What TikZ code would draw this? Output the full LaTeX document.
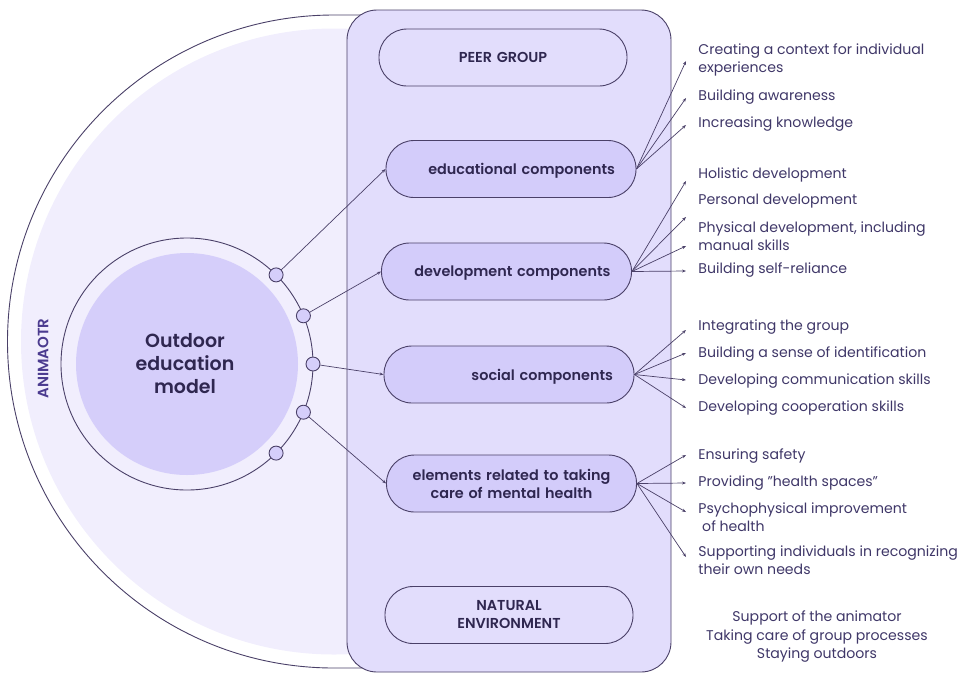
\documentclass[tikz,border=0pt]{standalone}
\usepackage{fontspec}
\setmainfont{Poppins}[BoldFont={Poppins SemiBold}]
\usetikzlibrary{arrows.meta}
\definecolor{bgA}{HTML}{F1EEFD}
\definecolor{bgB}{HTML}{E2DDFC}
\definecolor{pillC}{HTML}{D3CCFA}
\definecolor{discC}{HTML}{D5CEFA}
\definecolor{lineC}{HTML}{4A4068}
\definecolor{txtC}{HTML}{2F2750}
\definecolor{txtR}{HTML}{3F3768}
\definecolor{aniC}{HTML}{4B3B8F}
\begin{document}
\begin{tikzpicture}[x=1pt,y=1pt,line width=0.9pt,
  pill/.style={draw=lineC,rounded corners=28pt,minimum height=57pt,text width=208pt,inner xsep=21pt,inner ysep=0pt,text=txtC,font=\fontsize{14.4}{18}\selectfont\bfseries},
  dot/.style={circle,draw=lineC,fill=discC,minimum size=14pt,inner sep=0pt},
  conn/.style={draw=lineC,line width=0.7pt,-{Stealth[length=4pt,width=3pt]}},
  item/.style={anchor=west,text=txtR,align=left,inner sep=0pt,yshift=-1.5pt,font=\fontsize{14.1}{18}\selectfont}]
\useasboundingbox (0,0) rectangle (965,-673);
% big half circle
\fill[bgA] (334,-341.5) circle[radius=313];
\draw[lineC] (380,-15) -- (334,-15) arc[start angle=90,end angle=270,radius=326.5] -- (380,-668);
% central panel
\draw[lineC,fill=bgB,rounded corners=30pt] (347,-10) rectangle (671,-672);
% inner circle
\draw[lineC] (187,-364) circle[radius=126];
\fill[discC] (187,-364) circle[radius=111];
\node[text=txtC,align=center,font=\fontsize{19}{23}\selectfont\bfseries] (model) at (185,-363.5) {Outdoor\\education\\model};
\node[rotate=90,text=aniC,font=\fontsize{15}{16}\selectfont\bfseries] (anim) at (43,-358.5) {ANIMAOTR};
% dots
\node[dot] (c1) at (276.1,-274.9) {};
\node[dot] (c2) at (303.4,-315.8) {};
\node[dot] (c3) at (313,-364) {};
\node[dot] (c4) at (303.4,-412.2) {};
\node[dot] (c5) at (276.1,-453.1) {};
% pills
\node[pill,fill=bgB,align=center,text width=206pt,text depth=0pt] (peer) at (503,-57.5) {PEER GROUP};
\node[pill,fill=pillC,align=right,text depth=0pt] (edu) at (511,-169) {educational components};
\node[pill,fill=pillC,align=right,text depth=0pt] (dev) at (506.5,-271.5) {development components};
\node[pill,fill=pillC,align=right,text depth=0pt] (soc) at (509,-374.5) {social components};
\node[pill,fill=pillC,align=center] (men) at (511.5,-483.5) {elements related to taking\\care of mental health};
\node[pill,fill=bgB,align=center,text width=206pt] (nat) at (509,-615) {NATURAL\\ENVIRONMENT};
% left connectors
\draw[conn] (c1) -- (edu.west);
\draw[conn] (c2) -- (dev.west);
\draw[conn] (c3) -- (soc.west);
\draw[conn] (c4) -- (men.west);
% target coordinates
\coordinate (e1) at (686,-61);
\coordinate (e2) at (686,-98);
\coordinate (e3) at (686,-125);
\coordinate (d1) at (686,-181);
\coordinate (d2) at (686,-217);
\coordinate (d3) at (686,-246);
\coordinate (d4) at (686,-271);
\coordinate (s1) at (686,-330);
\coordinate (s2) at (686,-353);
\coordinate (s3) at (686,-380);
\coordinate (s4) at (686,-408);
\coordinate (m1) at (686,-455);
\coordinate (m2) at (686,-483);
\coordinate (m3) at (686,-512);
\coordinate (m4) at (686,-557);
\foreach \t in {e1,e2,e3} \draw[conn] (edu.east) -- (\t);
\foreach \t in {d1,d2,d3,d4} \draw[conn] (dev.east) -- (\t);
\foreach \t in {s1,s2,s3,s4} \draw[conn] (soc.east) -- (\t);
\foreach \t in {m1,m2,m3,m4} \draw[conn] (men.east) -- (\t);
% right texts
\node[item] (te1) at (698,-58) {Creating a context for individual\\experiences};
\node[item] (te2) at (698,-96) {Building awareness};
\node[item] (te3) at (698,-123) {Increasing knowledge};
\node[item] (td1) at (698,-173) {Holistic development};
\node[item] (td2) at (698,-200) {Personal development};
\node[item] (td3) at (698,-235) {Physical development, including\\manual skills};
\node[item] (td4) at (698,-269) {Building self-reliance};
\node[item] (ts1) at (698,-326) {Integrating the group};
\node[item] (ts2) at (698,-353) {Building a sense of identification};
\node[item] (ts3) at (698,-380) {Developing communication skills};
\node[item] (ts4) at (698,-407) {Developing cooperation skills};
\node[item] (tm1) at (698,-455) {Ensuring safety};
\node[item] (tm2) at (698,-482) {Providing "health spaces"};
\node[item] (tm3) at (698,-516) {Psychophysical improvement\\\ of health};
\node[item] (tm4) at (698,-559) {Supporting individuals in recognizing\\their own needs};
\node[text=txtR,align=center,inner sep=0pt,yshift=-1pt,font=\fontsize{14.1}{18.5}\selectfont] (bot) at (817,-636) {Support of the animator\\Taking care of group processes\\Staying outdoors};
\end{tikzpicture}
\end{document}
